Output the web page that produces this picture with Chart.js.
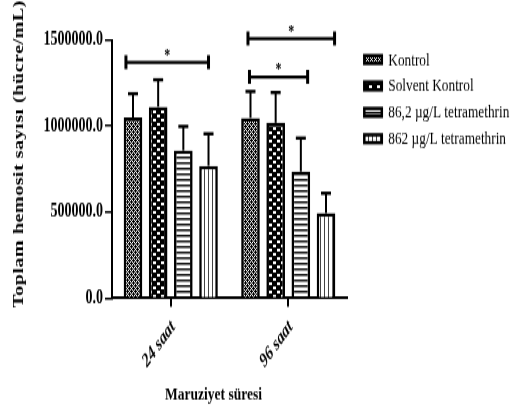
<!DOCTYPE html>
<html>
<head>
<meta charset="utf-8">
<script src="https://cdn.jsdelivr.net/npm/chart.js@4"></script>
<style>
html,body{margin:0;padding:0;background:#fff;}
#wrap{width:513px;height:408px;position:relative;overflow:hidden;}
#c{display:block;width:513px;height:408px;}
</style>
</head>
<body>
<div id="wrap"><canvas id="c" width="513" height="292" style="width:513px;height:408px"></canvas></div>
<script>
// ---- data ----
const categories = ['24 saat', '96 saat'];
const seriesNames = ['Kontrol', 'Solvent Kontrol', '86,2 µg/L tetramethrin', '862 µg/L tetramethrin'];
const kontrol = [1050000, 1047000];
const solventKontrol = [1112000, 1019000];
const tetra862low = [858000, 736000];
const tetra862high = [769000, 494000];
const kontrolSD = [138000, 154000];
const solventKontrolSD = [157000, 176000];
const tetra862lowSD = [140000, 194000];
const tetra862highSD = [186000, 116000];
const yTicks = [0, 500000, 1000000, 1500000];
const yTitle = 'Toplam hemosit sayısı (hücre/mL)';
const xTitle = 'Maruziyet süresi';
// significance brackets: category, start/end in bar-slot units (0 = first bar centre), level
const sigCategory = [0, 1, 1];
const sigFrom = [-0.28, -0.1, -0.04];
const sigTo = [3.0, 3.34, 2.27];
const sigLevel = [1370000, 1508000, 1285000];
const sigLabel = ['*', '*', '*'];

const seriesValues = [kontrol, solventKontrol, tetra862low, tetra862high];
const seriesErrors = [kontrolSD, solventKontrolSD, tetra862lowSD, tetra862highSD];

// ---- patterns ----
function makePattern(w, h, draw) {
  const c = document.createElement('canvas');
  c.width = w; c.height = h;
  const g = c.getContext('2d');
  draw(g, w, h);
  return document.getElementById('c').getContext('2d').createPattern(c, 'repeat');
}
function bitmap(rows) {
  return (g) => {
    g.fillStyle = '#fff'; g.fillRect(0, 0, rows[0].length, rows.length);
    g.fillStyle = '#000';
    rows.forEach((r, y) => { for (let x = 0; x < r.length; x++) if (r[x] === '1') g.fillRect(x, y, 1, 1); });
  };
}
const patKontrol = makePattern(4, 4, bitmap(['1011', '0101', '1110', '0101']));
const patSolvent = makePattern(8, 6, (g) => {
  g.fillStyle = '#000'; g.fillRect(0, 0, 8, 6);
  g.fillStyle = '#fff';
  g.fillRect(1, 1, 3, 2); g.fillRect(5, 4, 3, 2);
});
const patHoriz = makePattern(4, 4, (g) => {
  g.fillStyle = '#fff'; g.fillRect(0, 0, 4, 4);
  g.fillStyle = '#111'; g.fillRect(0, 0, 4, 1);
  g.fillStyle = '#888'; g.fillRect(0, 1, 4, 1);
});
const patVert = makePattern(4, 4, (g) => {
  g.fillStyle = '#fff'; g.fillRect(0, 0, 4, 4);
  g.fillStyle = '#444'; g.fillRect(0, 0, 1, 4);
});
const patterns = [patKontrol, patSolvent, patHoriz, patVert];

const SERIF = '"Liberation Serif", "Times New Roman", serif';

const errorBars = {
  id: 'errorBars',
  afterDatasetsDraw(chart) {
    const ctx = chart.ctx, ys = chart.scales.y;
    ctx.save();
    ctx.strokeStyle = '#000';
    chart.data.datasets.forEach((ds, i) => {
      const meta = chart.getDatasetMeta(i);
      meta.data.forEach((bar, j) => {
        const top = ys.getPixelForValue(ds.data[j] + seriesErrors[i][j]);
        ctx.lineWidth = 2;
        ctx.beginPath(); ctx.moveTo(bar.x, bar.y); ctx.lineTo(bar.x, top); ctx.stroke();
        ctx.lineWidth = 2.4;
        ctx.beginPath(); ctx.moveTo(bar.x - 5, top); ctx.lineTo(bar.x + 5, top); ctx.stroke();
      });
    });
    // significance brackets
    sigCategory.forEach((cat, k) => {
      const b0 = chart.getDatasetMeta(0).data[cat];
      const b1 = chart.getDatasetMeta(1).data[cat];
      const slot = b1.x - b0.x;
      const x1 = b0.x + sigFrom[k] * slot, x2 = b0.x + sigTo[k] * slot;
      const y = ys.getPixelForValue(sigLevel[k]);
      ctx.lineWidth = 2.2;
      ctx.beginPath(); ctx.moveTo(x1, y); ctx.lineTo(x2, y); ctx.stroke();
      ctx.lineWidth = 3;
      ctx.beginPath(); ctx.moveTo(x1, y - 5); ctx.lineTo(x1, y + 5);
      ctx.moveTo(x2, y - 5); ctx.lineTo(x2, y + 5); ctx.stroke();
      ctx.fillStyle = '#000';
      ctx.font = 'bold 12px ' + SERIF;
      ctx.textAlign = 'center'; ctx.textBaseline = 'middle';
      ctx.fillText(sigLabel[k], (x1 + x2) / 2, y - 5);
    });
    ctx.restore();
  }
};

const titlesAndLegend = {
  id: 'titlesAndLegend',
  afterDraw(chart) {
    const ctx = chart.ctx, ca = chart.chartArea;
    ctx.save();
    ctx.fillStyle = '#000';
    // legend
    ctx.font = '13.3px ' + SERIF;
    ctx.textAlign = 'left'; ctx.textBaseline = 'middle';
    const bx = ca.right + 17.3, by0 = ca.top + 14, step = 18.9;
    seriesNames.forEach((name, i) => {
      const cy = by0 + i * step;
      ctx.fillStyle = patterns[i];
      ctx.fillRect(bx, cy - 2.8, 17.5, 5.6);
      ctx.lineWidth = 2.5; ctx.strokeStyle = '#000';
      ctx.strokeRect(bx, cy - 2.8, 17.5, 5.6);
      ctx.fillStyle = '#000';
      ctx.fillText(name, bx + 24, cy + 0.5);
    });
    // axis titles
    ctx.font = 'bold 13.5px ' + SERIF;
    ctx.textAlign = 'center'; ctx.textBaseline = 'middle';
    ctx.fillText(xTitle, 213.5, 283);
    ctx.font = 'bold 14.5px ' + SERIF;
    ctx.translate(19, 110.2);
    ctx.rotate(-Math.PI / 2);
    ctx.letterSpacing = '0.3px';
    ctx.fillText(yTitle, 0, 0);
    ctx.restore();
  }
};

new Chart(document.getElementById('c'), {
  type: 'bar',
  data: {
    labels: categories,
    datasets: seriesNames.map((name, i) => ({
      label: name,
      data: seriesValues[i],
      backgroundColor: patterns[i],
      borderColor: '#000',
      borderWidth: 2.6,
      borderSkipped: 'start',
      categoryPercentage: 0.857,
      barPercentage: 0.74
    }))
  },
  options: {
    responsive: false,
    animation: false,
    devicePixelRatio: 1,
    layout: { padding: { left: 41.5, right: 166, top: 28.6, bottom: 18.8 } },
    plugins: {
      tooltip: { enabled: false },
      legend: { display: false }
    },
    scales: {
      x: {
        offset: true,
        grid: { display: true, drawOnChartArea: false, offset: false, color: '#000', lineWidth: 2, tickLength: 6 },
        border: { display: true, color: '#000', width: 2 },
        ticks: {
          color: '#000', minRotation: 45, maxRotation: 45, padding: 6.5, labelOffset: 2.5,
          font: { family: SERIF, size: 14, weight: 'bold', style: 'italic' }
        }
      },
      y: {
        min: 0, max: 1500000,
        afterBuildTicks(scale) { scale.ticks = yTicks.map(v => ({ value: v })); },
        grid: { display: true, drawOnChartArea: false, color: '#000', lineWidth: 1.5, tickLength: 7 },
        border: { display: true, color: '#000', width: 2 },
        ticks: {
          color: '#000', padding: 2,
          callback: (v) => Number(v).toFixed(1),
          font: { family: SERIF, size: 14, weight: 'bold' }
        }
      }
    }
  },
  plugins: [errorBars, titlesAndLegend]
});
</script>
</body>
</html>
